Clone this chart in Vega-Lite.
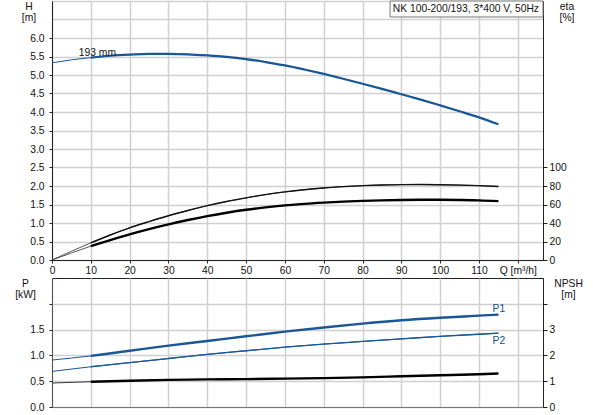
{
  "$schema": "https://vega.github.io/schema/vega-lite/v6.json",
  "padding": {"left": 14, "top": 0, "right": 5, "bottom": 0},
  "background": "white",
  "bounds": "flush",
  "spacing": 18,
  "config": {
    "font": "Liberation Sans",
    "view": {"stroke": "#222", "strokeWidth": 1},
    "axis": {
      "labelFont": "Liberation Sans", "labelFontSize": 10.3, "labelColor": "#111",
      "titleFont": "Liberation Sans", "titleFontSize": 10.3, "titleFontWeight": "normal", "titleColor": "#111",
      "domainColor": "#222", "tickColor": "#222", "tickSize": 3, "labelPadding": 2,
      "gridColor": "#d0d0d0", "gridWidth": 1.5,
      "titleAngle": 0, "titleAlign": "center", "titleBaseline": "alphabetic", "titleLineHeight": 11.7
    },
    "axisLeft": {"labelPadding": 5},
    "axisRight": {"tickSize": 4, "labelPadding": 2},
    "text": {"font": "Liberation Sans", "fontSize": 10.3, "color": "#111"}
  },
  "datasets": {
    "H": [
      {"Q": 0, "H": 5.33}, {"Q": 5, "H": 5.41}, {"Q": 10, "H": 5.47}, {"Q": 15, "H": 5.52},
      {"Q": 20, "H": 5.55}, {"Q": 25, "H": 5.57}, {"Q": 30, "H": 5.57}, {"Q": 35, "H": 5.56},
      {"Q": 40, "H": 5.53}, {"Q": 45, "H": 5.49}, {"Q": 50, "H": 5.43}, {"Q": 55, "H": 5.35},
      {"Q": 60, "H": 5.26}, {"Q": 65, "H": 5.15}, {"Q": 70, "H": 5.03}, {"Q": 75, "H": 4.9},
      {"Q": 80, "H": 4.765}, {"Q": 85, "H": 4.625}, {"Q": 90, "H": 4.48}, {"Q": 95, "H": 4.335},
      {"Q": 100, "H": 4.18}, {"Q": 105, "H": 4.02}, {"Q": 110, "H": 3.855}, {"Q": 115, "H": 3.67}
    ],
    "eta": [
      {"Q": 0, "eta": 0, "c": "e1"}, {"Q": 5, "eta": 9.5, "c": "e1"}, {"Q": 10, "eta": 18.5, "c": "e1"},
      {"Q": 15, "eta": 27, "c": "e1"}, {"Q": 20, "eta": 34.8, "c": "e1"}, {"Q": 25, "eta": 41.5, "c": "e1"},
      {"Q": 30, "eta": 47.8, "c": "e1"}, {"Q": 35, "eta": 53.5, "c": "e1"}, {"Q": 40, "eta": 58.8, "c": "e1"},
      {"Q": 45, "eta": 63.3, "c": "e1"}, {"Q": 50, "eta": 67.2, "c": "e1"}, {"Q": 55, "eta": 70.7, "c": "e1"},
      {"Q": 60, "eta": 73.6, "c": "e1"}, {"Q": 65, "eta": 76, "c": "e1"}, {"Q": 70, "eta": 77.9, "c": "e1"},
      {"Q": 75, "eta": 79.3, "c": "e1"}, {"Q": 80, "eta": 80.4, "c": "e1"}, {"Q": 85, "eta": 81.1, "c": "e1"},
      {"Q": 90, "eta": 81.5, "c": "e1"}, {"Q": 95, "eta": 81.6, "c": "e1"}, {"Q": 100, "eta": 81.4, "c": "e1"},
      {"Q": 105, "eta": 81, "c": "e1"}, {"Q": 110, "eta": 80.4, "c": "e1"}, {"Q": 115, "eta": 79.5, "c": "e1"},
      {"Q": 0, "eta": 0, "c": "e2"}, {"Q": 5, "eta": 7.6, "c": "e2"}, {"Q": 10, "eta": 15, "c": "e2"},
      {"Q": 15, "eta": 21.6, "c": "e2"}, {"Q": 20, "eta": 27.8, "c": "e2"}, {"Q": 25, "eta": 33.4, "c": "e2"},
      {"Q": 30, "eta": 38.5, "c": "e2"}, {"Q": 35, "eta": 43.2, "c": "e2"}, {"Q": 40, "eta": 47.4, "c": "e2"},
      {"Q": 45, "eta": 51.1, "c": "e2"}, {"Q": 50, "eta": 54.3, "c": "e2"}, {"Q": 55, "eta": 56.9, "c": "e2"},
      {"Q": 60, "eta": 59, "c": "e2"}, {"Q": 65, "eta": 60.7, "c": "e2"}, {"Q": 70, "eta": 62, "c": "e2"},
      {"Q": 75, "eta": 63.1, "c": "e2"}, {"Q": 80, "eta": 63.9, "c": "e2"}, {"Q": 85, "eta": 64.5, "c": "e2"},
      {"Q": 90, "eta": 64.9, "c": "e2"}, {"Q": 95, "eta": 65.1, "c": "e2"}, {"Q": 100, "eta": 65.1, "c": "e2"},
      {"Q": 105, "eta": 64.9, "c": "e2"}, {"Q": 110, "eta": 64.5, "c": "e2"}, {"Q": 115, "eta": 63.6, "c": "e2"}
    ],
    "P": [
      {"Q": 0, "P": 0.91, "c": "P1"}, {"Q": 10, "P": 0.99, "c": "P1"}, {"Q": 20, "P": 1.09, "c": "P1"},
      {"Q": 30, "P": 1.19, "c": "P1"}, {"Q": 40, "P": 1.28, "c": "P1"}, {"Q": 50, "P": 1.37, "c": "P1"},
      {"Q": 60, "P": 1.46, "c": "P1"}, {"Q": 70, "P": 1.54, "c": "P1"}, {"Q": 80, "P": 1.615, "c": "P1"},
      {"Q": 90, "P": 1.68, "c": "P1"}, {"Q": 100, "P": 1.73, "c": "P1"}, {"Q": 110, "P": 1.77, "c": "P1"},
      {"Q": 115, "P": 1.79, "c": "P1"},
      {"Q": 0, "P": 0.69, "c": "P2"}, {"Q": 10, "P": 0.78, "c": "P2"}, {"Q": 20, "P": 0.86, "c": "P2"},
      {"Q": 30, "P": 0.94, "c": "P2"}, {"Q": 40, "P": 1.02, "c": "P2"}, {"Q": 50, "P": 1.09, "c": "P2"},
      {"Q": 60, "P": 1.16, "c": "P2"}, {"Q": 70, "P": 1.22, "c": "P2"}, {"Q": 80, "P": 1.27, "c": "P2"},
      {"Q": 90, "P": 1.32, "c": "P2"}, {"Q": 100, "P": 1.37, "c": "P2"}, {"Q": 110, "P": 1.41, "c": "P2"},
      {"Q": 115, "P": 1.43, "c": "P2"}
    ],
    "NPSH": [
      {"Q": 0, "N": 0.93}, {"Q": 10, "N": 0.98}, {"Q": 20, "N": 1.02}, {"Q": 30, "N": 1.05},
      {"Q": 40, "N": 1.07}, {"Q": 50, "N": 1.08}, {"Q": 60, "N": 1.1}, {"Q": 70, "N": 1.12},
      {"Q": 80, "N": 1.15}, {"Q": 90, "N": 1.19}, {"Q": 100, "N": 1.23}, {"Q": 110, "N": 1.27},
      {"Q": 115, "N": 1.3}
    ],
    "box": [{"Q": 87.1, "Q2": 126.5, "H": 6.568, "H2": 7.0}],
    "labelsTop": [
      {"Q": 87.8, "H": 6.71, "label": "NK 100-200/193, 3*400 V, 50Hz"},
      {"Q": 6.9, "H": 5.51, "label": "193 mm"}
    ],
    "labelsBottom": [
      {"Q": 113.5, "P": 1.847, "label": "P1"},
      {"Q": 113.5, "P": 1.227, "label": "P2"}
    ]
  },
  "vconcat": [
    {
      "width": 491,
      "height": 259,
      "encoding": {
        "x": {
          "field": "Q", "type": "quantitative",
          "scale": {"domain": [0, 126.5], "nice": false, "zero": false},
          "axis": {
            "values": [0, 10, 20, 30, 40, 50, 60, 70, 80, 90, 100, 110, 120],
            "labelExpr": "datum.value == 120 ? 'Q [m³/h]' : datum.label",
            "grid": true, "title": null, "labelFlush": false, "labelOverlap": false
          }
        }
      },
      "layer": [
        {
          "encoding": {
            "y": {
              "field": "H", "type": "quantitative",
              "scale": {"domain": [0, 7], "nice": false},
              "axis": {
                "values": [0, 0.5, 1, 1.5, 2, 2.5, 3, 3.5, 4, 4.5, 5, 5.5, 6, 6.5, 7],
                "labelExpr": "datum.value > 6.01 ? '' : format(datum.value, '.1f')",
                "tickOpacity": {"condition": {"test": "datum.value > 6.01", "value": 0}, "value": 1},
                "grid": true,
                "title": ["H", "[m]"], "titleX": -23.5, "titleY": 8
              }
            }
          },
          "layer": [
            {
              "data": {"name": "box"},
              "mark": {"type": "rect", "fill": "white", "stroke": "#777", "strokeWidth": 1},
              "encoding": {"x2": {"field": "Q2"}, "y2": {"field": "H2"}}
            },
            {
              "data": {"name": "H"},
              "mark": {"type": "line", "color": "#1a5796", "strokeWidth": 1, "interpolate": "monotone"}
            },
            {
              "data": {"name": "H"},
              "transform": [{"filter": "datum.Q >= 10"}],
              "mark": {"type": "line", "color": "#1a5796", "strokeWidth": 2.2, "interpolate": "monotone"}
            },
            {
              "data": {"name": "labelsTop"},
              "mark": {"type": "text", "align": "left", "baseline": "alphabetic"},
              "encoding": {"text": {"field": "label"}}
            }
          ]
        },
        {
          "data": {"name": "eta"},
          "encoding": {
            "y": {
              "field": "eta", "type": "quantitative",
              "scale": {"domain": [0, 280], "nice": false},
              "axis": {
                "orient": "right", "values": [0, 20, 40, 60, 80, 100], "grid": false,
                "title": ["eta", "[%]"], "titleX": 23.5, "titleY": 8
              }
            },
            "detail": {"field": "c"}
          },
          "layer": [
            {"mark": {"type": "line", "color": "#444", "strokeWidth": 0.9, "interpolate": "monotone"}},
            {
              "transform": [{"filter": "datum.Q >= 10 && datum.c == 'e1'"}],
              "mark": {"type": "line", "color": "#111", "strokeWidth": 1.4, "interpolate": "monotone"}
            },
            {
              "transform": [{"filter": "datum.Q >= 10 && datum.c == 'e2'"}],
              "mark": {"type": "line", "color": "#000", "strokeWidth": 2.4, "interpolate": "monotone"}
            }
          ]
        }
      ],
      "resolve": {"scale": {"y": "independent"}}
    },
    {
      "width": 491,
      "height": 129,
      "encoding": {
        "x": {
          "field": "Q", "type": "quantitative",
          "scale": {"domain": [0, 126.5], "nice": false, "zero": false},
          "axis": {
            "values": [0, 10, 20, 30, 40, 50, 60, 70, 80, 90, 100, 110, 120],
            "grid": true, "labels": false, "ticks": false, "title": null, "domainColor": "#777"
          }
        }
      },
      "layer": [
        {
          "encoding": {
            "y": {
              "field": "P", "type": "quantitative",
              "scale": {"domain": [0, 2.5], "nice": false},
              "axis": {
                "values": [0, 0.5, 1, 1.5, 2],
                "labelExpr": "datum.value > 1.99 ? '' : format(datum.value, '.1f')",
                "grid": true, "domainColor": "#555",
                "title": ["P", "[kW]"], "titleX": -27, "titleY": 8
              }
            }
          },
          "layer": [
            {
              "data": {"name": "P"},
              "mark": {"type": "line", "color": "#1a5796", "strokeWidth": 1, "interpolate": "monotone"},
              "encoding": {"detail": {"field": "c"}}
            },
            {
              "data": {"name": "P"},
              "transform": [{"filter": "datum.Q >= 10 && datum.c == 'P1'"}],
              "mark": {"type": "line", "color": "#1a5796", "strokeWidth": 2.4, "interpolate": "monotone"}
            },
            {
              "data": {"name": "P"},
              "transform": [{"filter": "datum.Q >= 10 && datum.c == 'P2'"}],
              "mark": {"type": "line", "color": "#1a5796", "strokeWidth": 1.3, "interpolate": "monotone"}
            },
            {
              "data": {"name": "labelsBottom"},
              "mark": {"type": "text", "align": "left", "baseline": "alphabetic", "color": "#1a4f8a"},
              "encoding": {"text": {"field": "label"}}
            }
          ]
        },
        {
          "data": {"name": "NPSH"},
          "encoding": {
            "y": {
              "field": "N", "type": "quantitative",
              "scale": {"domain": [0, 5], "nice": false},
              "axis": {
                "orient": "right", "values": [0, 1, 2, 3, 4], "grid": false,
                "labelExpr": "datum.value > 3.99 ? '' : datum.label",
                "title": ["NPSH", "[m]"], "titleX": 25, "titleY": 8
              }
            }
          },
          "layer": [
            {"mark": {"type": "line", "color": "#333", "strokeWidth": 1, "interpolate": "monotone"}},
            {
              "transform": [{"filter": "datum.Q >= 10"}],
              "mark": {"type": "line", "color": "#000", "strokeWidth": 2.4, "interpolate": "monotone"}
            }
          ]
        }
      ],
      "resolve": {"scale": {"y": "independent"}}
    }
  ]
}
